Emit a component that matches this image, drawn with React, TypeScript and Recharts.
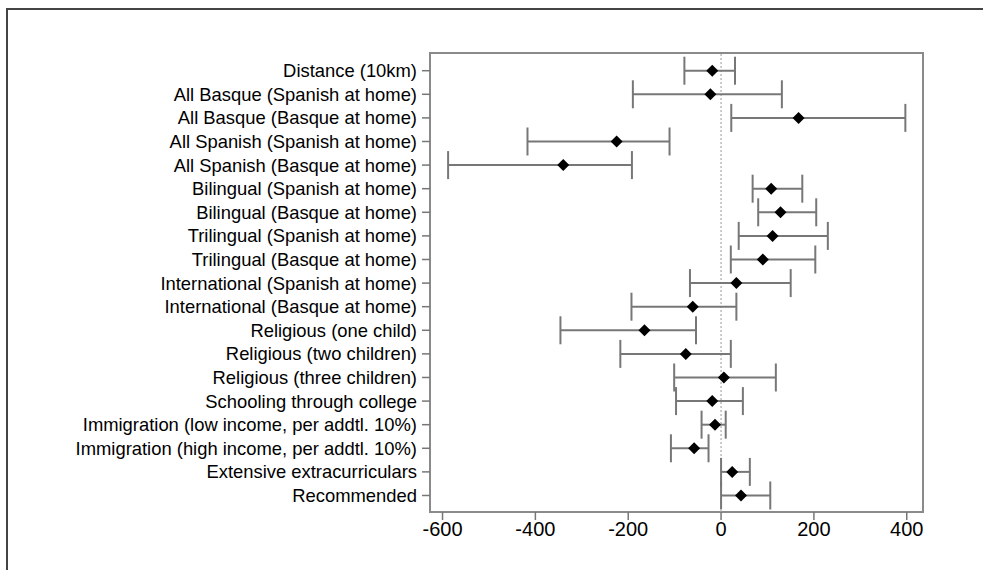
import React from "react";
import {
  ScatterChart,
  Scatter,
  XAxis,
  YAxis,
  ErrorBar,
  ReferenceLine,
  ReferenceArea,
} from "recharts";

const labels: string[] = [
  "Distance (10km)",
  "All Basque (Spanish at home)",
  "All Basque (Basque at home)",
  "All Spanish (Spanish at home)",
  "All Spanish (Basque at home)",
  "Bilingual (Spanish at home)",
  "Bilingual (Basque at home)",
  "Trilingual (Spanish at home)",
  "Trilingual (Basque at home)",
  "International (Spanish at home)",
  "International (Basque at home)",
  "Religious (one child)",
  "Religious (two children)",
  "Religious (three children)",
  "Schooling through college",
  "Immigration (low income, per addtl. 10%)",
  "Immigration (high income, per addtl. 10%)",
  "Extensive extracurriculars",
  "Recommended",
];

const estimates: number[] = [
  -19, -23, 167, -225, -340, 108, 128, 111, 90, 33, -61, -165, -76, 6, -19, -13, -58, 24, 43,
];

const lowerBounds: number[] = [
  -79, -190, 22, -417, -588, 68, 80, 38, 21, -67, -193, -346, -217, -101, -97, -42, -108, 0, 0,
];

const upperBounds: number[] = [
  30, 131, 397, -111, -192, 175, 205, 230, 203, 150, 33, -54, 21, 118, 47, 10, -27, 62, 106,
];

const xTicks: number[] = [-600, -400, -200, 0, 200, 400];

const rowTicks: number[] = labels.map((_, i) => i + 1);

const data = labels.map((label, i) => ({
  row: i + 1,
  label,
  est: estimates[i],
  err: [estimates[i] - lowerBounds[i], upperBounds[i] - estimates[i]],
}));

const FONT = "'Liberation Sans', Arial, Helvetica, sans-serif";

const Diamond = (props: any) => {
  const { cx, cy } = props;
  if (cx == null || cy == null) return null;
  const r = 6;
  return (
    <polygon
      points={`${cx},${cy - r} ${cx + r},${cy} ${cx},${cy + r} ${cx - r},${cy}`}
      fill="#000"
      stroke="none"
    />
  );
};

export default function App() {
  return (
    <div style={{ position: "absolute", left: 0, top: 0, width: 983, height: 570 }}>
      <div
        style={{
          position: "absolute",
          left: 6,
          top: 8,
          width: 983,
          height: 570,
          borderTop: "2px solid #444",
          borderLeft: "2px solid #444",
          boxSizing: "border-box",
        }}
      />
      <div style={{ position: "absolute", left: 0, top: 0 }}>
        <ScatterChart
          width={983}
          height={570}
          margin={{ top: 53, right: 60, bottom: 0, left: 0 }}
        >
          <XAxis
            type="number"
            dataKey="est"
            domain={[-627, 435]}
            ticks={xTicks}
            allowDataOverflow
            axisLine={false}
            tickLine={{ stroke: "#777", strokeWidth: 1.5 }}
            tickSize={8}
            tickMargin={2}
            height={58}
            tick={{ fill: "#000", fontSize: 20, fontFamily: FONT }}
          />
          <YAxis
            type="number"
            dataKey="row"
            domain={[0.25, 19.7]}
            reversed
            ticks={rowTicks}
            interval={0}
            allowDataOverflow
            axisLine={false}
            tickLine={{ stroke: "#777", strokeWidth: 1.5 }}
            tickSize={8}
            tickMargin={5}
            width={430}
            tickFormatter={(v: number) => labels[v - 1] ?? ""}
            tick={{ fill: "#000", fontSize: 18.4, fontFamily: FONT }}
          />
          <ReferenceArea
            x1={-627}
            x2={435}
            y1={0.25}
            y2={19.7}
            fill="none"
            fillOpacity={0}
            stroke="#8a8a8a"
            strokeWidth={2}
            ifOverflow="visible"
          />
          <ReferenceLine x={0} stroke="#aaa" strokeWidth={1.2} strokeDasharray="2 2" />
          <Scatter data={data} shape={<Diamond />} isAnimationActive={false}>
            <ErrorBar
              dataKey="err"
              direction="x"
              width={14}
              stroke="#777"
              strokeWidth={2}
              isAnimationActive={false}
            />
          </Scatter>
        </ScatterChart>
      </div>
    </div>
  );
}
